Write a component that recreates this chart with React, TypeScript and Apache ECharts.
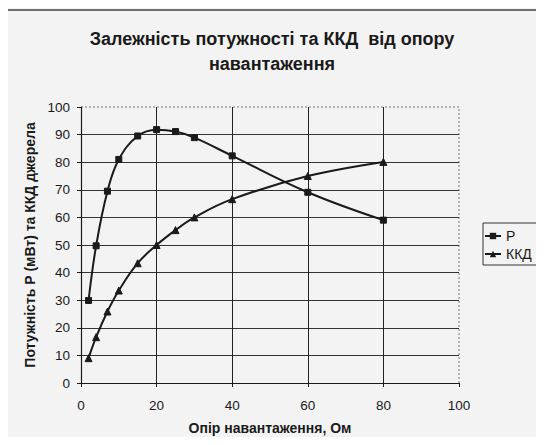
import React, { useEffect, useRef } from "react";
import * as echarts from "echarts";

const resistance = [2, 4, 7, 10, 15, 20, 25, 30, 40, 60, 80];
const powerP = [29.9, 49.7, 69.5, 81.0, 89.5, 91.8, 91.1, 88.9, 82.3, 69.1, 59.0];
const efficiency = [9.0, 16.6, 25.9, 33.5, 43.4, 50.0, 55.4, 60.0, 66.6, 75.0, 80.1];

const seriesNames = ["Р", "ККД"];
const titleText = "Залежність потужності та ККД  від опору\nнавантаження";
const xAxisName = "Опір навантаження, Ом";
const yAxisName = "Потужність Р (мВт) та ККД джерела";

const FONT = "'Liberation Sans', Arial, sans-serif";
const INK = "#1a1a1a";

export default function App() {
  const ref = useRef<HTMLDivElement>(null);
  useEffect(() => {
    if (!ref.current) return;
    const chart = echarts.init(ref.current, null, { renderer: "svg" });
    const pairs = (ys: number[]) => resistance.map((x, i) => [x, ys[i]]);
    chart.setOption({
      animation: false,
      backgroundColor: "#f3f3f3",
      textStyle: { fontFamily: FONT },
      title: {
        text: titleText,
        left: "center",
        top: 26,
        padding: 0,
        textStyle: {
          fontFamily: FONT,
          fontSize: 18,
          fontWeight: "bold",
          color: INK,
          lineHeight: 25,
        },
      },
      grid: { left: 81, right: 85, top: 107, bottom: 62, containLabel: false },
      xAxis: {
        type: "value",
        min: 0,
        max: 100,
        interval: 20,
        name: xAxisName,
        nameLocation: "middle",
        nameGap: 38,
        nameTextStyle: { fontFamily: FONT, fontSize: 14, fontWeight: "bold", color: INK },
        axisLine: { show: true, onZero: false, lineStyle: { color: INK, width: 1.2 } },
        axisTick: { show: true, inside: false, length: 4, lineStyle: { color: INK } },
        axisLabel: { fontFamily: FONT, fontSize: 13.5, color: INK, margin: 15 },
        splitLine: {
          show: true,
          showMinLine: false,
          showMaxLine: false,
          lineStyle: { color: "#222", width: 1 },
        },
      },
      yAxis: {
        type: "value",
        min: 0,
        max: 100,
        interval: 10,
        name: yAxisName,
        nameLocation: "middle",
        nameGap: 42,
        nameTextStyle: { fontFamily: FONT, fontSize: 14, fontWeight: "bold", color: INK },
        axisLine: { show: true, onZero: false, lineStyle: { color: INK, width: 1.2 } },
        axisTick: { show: true, inside: false, length: 4, lineStyle: { color: INK } },
        axisLabel: { fontFamily: FONT, fontSize: 13.5, color: INK, margin: 11 },
        splitLine: {
          show: true,
          showMinLine: false,
          showMaxLine: false,
          lineStyle: { color: "#333", width: 1 },
        },
      },
      legend: {
        orient: "vertical",
        left: 484,
        top: 229,
        itemWidth: 16,
        itemHeight: 8,
        itemGap: 4,
        padding: 0,
        textStyle: { fontFamily: FONT, fontSize: 14, color: INK },
        data: seriesNames,
      },
      graphic: [
        {
          type: "rect",
          shape: { x: 7, y: 10, width: 600, height: 500 },
          style: { fill: "none", stroke: "#444", lineWidth: 1.5 },
          silent: true,
        },
        {
          type: "polyline",
          shape: { points: [[81, 107], [459, 107], [459, 383]] },
          style: { fill: "none", stroke: "#777", lineWidth: 1, lineDash: [2, 2] },
          silent: true,
        },
        {
          type: "rect",
          shape: { x: 483, y: 223, width: 80, height: 42 },
          style: { fill: "none", stroke: "#333", lineWidth: 1 },
          silent: true,
        },
      ],
      series: [
        {
          name: seriesNames[0],
          type: "line",
          data: pairs(powerP),
          smooth: 0.4,
          symbol: "rect",
          symbolSize: 6,
          lineStyle: { color: INK, width: 2 },
          itemStyle: { color: INK, borderColor: INK },
        },
        {
          name: seriesNames[1],
          type: "line",
          data: pairs(efficiency),
          smooth: 0.4,
          symbol: "triangle",
          symbolSize: 7,
          lineStyle: { color: INK, width: 2 },
          itemStyle: { color: INK, borderColor: INK },
        },
      ],
    });
    return () => chart.dispose();
  }, []);
  return <div ref={ref} style={{ width: 544, height: 445, margin: -8 }} />;
}
